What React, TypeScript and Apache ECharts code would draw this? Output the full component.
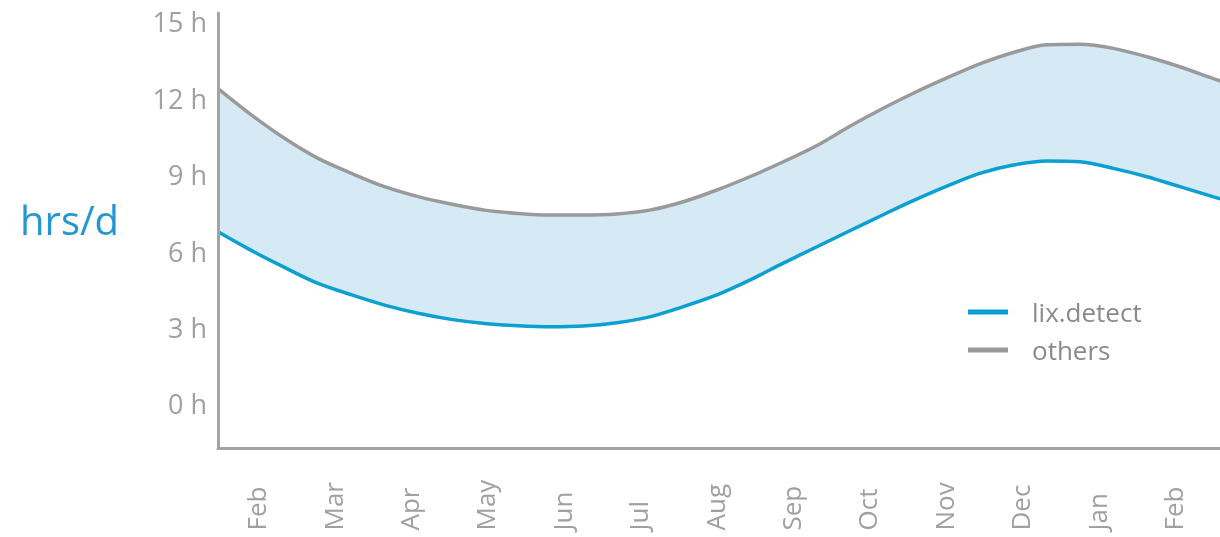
import React, { useEffect, useRef } from "react";
import * as echarts from "echarts";

const monthLabels = ["Feb", "Mar", "Apr", "May", "Jun", "Jul", "Aug", "Sep", "Oct", "Nov", "Dec", "Jan", "Feb", ""];
// x positions in months (0 = first Feb label)
const xPos = [
  -0.5, -0.06, 0.37, 0.81, 1.25, 1.68, 2.12, 2.55, 2.99, 3.43, 3.86, 4.28, 4.72, 5.15, 5.59, 6.03,
  6.46, 6.9, 7.34, 7.77, 8.2, 8.6, 9.04, 9.47, 9.91, 10.35, 10.78, 11.22, 11.66, 12.09, 12.52, 12.62,
];
const othersHours = [
  12.38, 11.34, 10.43, 9.64, 9.05, 8.53, 8.14, 7.85, 7.61, 7.48, 7.42, 7.42, 7.46, 7.61, 7.94, 8.4,
  8.92, 9.51, 10.15, 10.9, 11.6, 12.2, 12.8, 13.35, 13.8, 14.1, 14.12, 13.96, 13.63, 13.24, 12.78, 12.68,
];
const lixHours = [
  6.76, 6.02, 5.36, 4.73, 4.28, 3.88, 3.56, 3.32, 3.16, 3.07, 3.03, 3.06, 3.19, 3.42, 3.82, 4.28,
  4.86, 5.53, 6.17, 6.8, 7.42, 7.98, 8.55, 9.05, 9.38, 9.54, 9.51, 9.25, 8.92, 8.53, 8.14, 8.05,
];
const yTickStep = 3;
const unitLabel = "hrs/d";

const BLUE = "#0b9fd2";
const GRAY = "#9a9a9a";
const FILL = "#d6eaf5";
const AXIS = "#a3a3a3";
const LABEL = "#a0a0a0";

export default function App() {
  const ref = useRef<HTMLDivElement>(null);
  useEffect(() => {
    if (!ref.current) return;
    const chart = echarts.init(ref.current, undefined, { renderer: "svg" });
    const lixData = xPos.map((x, i) => [x, lixHours[i]]);
    const othersData = xPos.map((x, i) => [x, othersHours[i]]);
    const band = 76.4;
    chart.setOption({
      animation: false,
      grid: {
        left: 218,
        top: 13,
        width: band * monthLabels.length,
        bottom: 88.5,
        containLabel: false,
        outerBoundsMode: "none",
      },
      xAxis: [
        {
          type: "category",
          data: monthLabels,
          boundaryGap: true,
          z: 10,
          axisLine: { show: true, onZero: false, lineStyle: { color: AXIS, width: 3 } },
          axisTick: { show: false },
          axisLabel: {
            rotate: 90,
            align: "left",
            margin: 82,
            fontSize: 26,
            color: LABEL,
            fontFamily: "Open Sans",
            interval: 0,
          },
          splitLine: { show: false },
        },
        {
          type: "value",
          min: -0.5,
          max: monthLabels.length - 0.5,
          show: false,
          axisLine: { onZero: false },
        },
      ],
      yAxis: {
        type: "value",
        min: -1.75,
        max: 15.35,
        interval: 0.25,
        z: 10,
        axisLine: { show: true, onZero: false, lineStyle: { color: AXIS, width: 3 } },
        axisTick: { show: false },
        splitLine: { show: false },
        axisLabel: {
          margin: 11,
          fontSize: 27,
          color: LABEL,
          fontFamily: "Open Sans",
          showMinLabel: false,
          showMaxLabel: false,
          formatter: (v: number) => (v >= 0 && Math.abs(v % yTickStep) < 1e-9 ? `${v} h` : ""),
        },
      },
      legend: {
        orient: "vertical",
        left: 968,
        top: 299,
        padding: 0,
        icon: "rect",
        itemWidth: 40,
        itemHeight: 5,
        itemGap: 12,
        textStyle: { fontSize: 26, color: "#8a8a8a", fontFamily: "Open Sans", padding: [0, 0, 0, 19] },
        data: [
          { name: "lix.detect", itemStyle: { color: BLUE } },
          { name: "others", itemStyle: { color: GRAY } },
        ],
      },
      graphic: [
        {
          type: "text",
          left: 20,
          top: 199,
          style: { text: unitLabel, fontSize: 40, fill: "#2497d0", fontFamily: "Open Sans" },
        },
      ],
      series: [
        {
          name: "others",
          type: "line",
          xAxisIndex: 1,
          smooth: 0.3,
          symbol: "none",
          data: othersData,
          color: GRAY,
          lineStyle: { color: GRAY, width: 3.5 },
          itemStyle: { color: GRAY },
          areaStyle: { color: FILL, opacity: 1, origin: "start" },
          z: 2,
        },
        {
          name: "lix.detect",
          type: "line",
          xAxisIndex: 1,
          smooth: 0.3,
          symbol: "none",
          data: lixData,
          color: BLUE,
          lineStyle: { color: BLUE, width: 3.5 },
          itemStyle: { color: BLUE },
          areaStyle: { color: "#ffffff", opacity: 1, origin: "start" },
          z: 3,
        },
      ],
    });
    return () => chart.dispose();
  }, []);
  return <div ref={ref} style={{ position: "fixed", left: 0, top: 0, width: 1220, height: 537 }} />;
}
